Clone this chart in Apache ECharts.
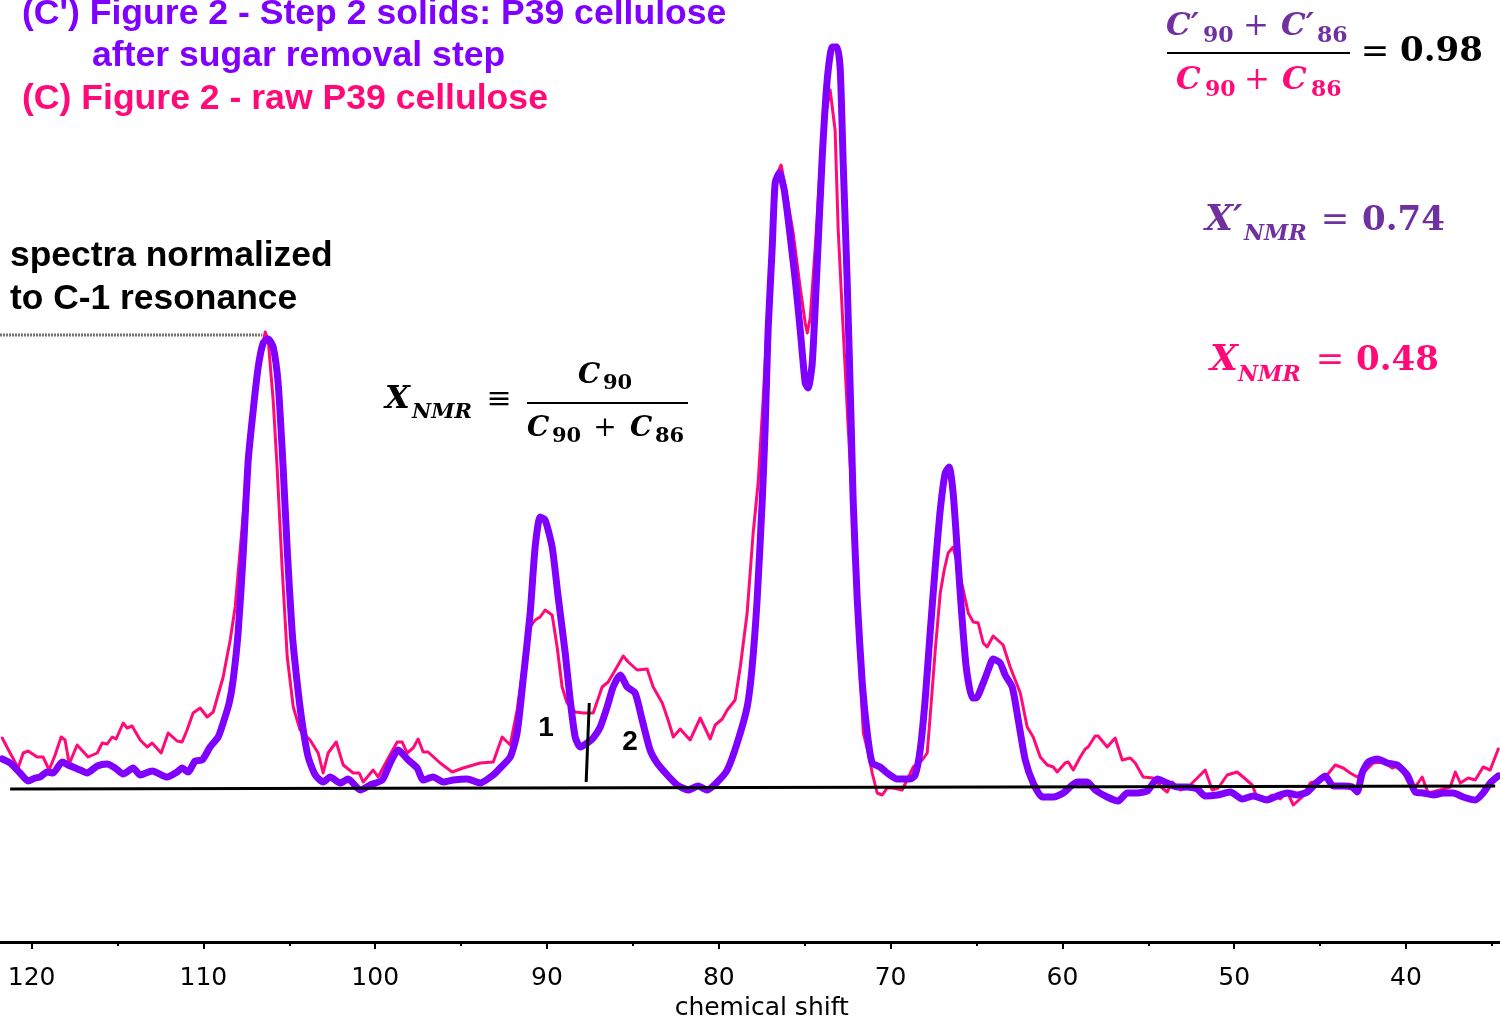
<!DOCTYPE html>
<html>
<head>
<meta charset="utf-8">
<script src="https://cdn.jsdelivr.net/npm/echarts@6/dist/echarts.min.js"></script>
<style>
html,body{margin:0;padding:0;background:#fff;}
#chart{width:1500px;height:1016px;}
</style>
</head>
<body>
<div id="chart"></div>
<script>
// ---- data: [chemical shift (ppm), intensity (a.u., C-1 peak ~450)] ----
const purpleStep2 = [[121.71,29],[121.25,25],[120.67,15],[120.2,7],[119.79,10],[119.5,11],[119.1,16],[118.75,15],[118.22,26],[117.87,23],[117.17,18],[116.77,15],[116.18,22],[115.6,24],[115.14,20],[114.67,14],[114.09,20],[113.68,13],[112.98,17],[112.11,11],[111.53,16],[111.24,20],[110.89,16],[110.48,27],[110.07,28],[109.61,41],[109.14,51],[108.85,65],[108.5,85],[108.27,108],[107.98,155],[107.68,235],[107.39,328],[107.1,378],[106.81,421],[106.52,445],[106.23,449],[105.94,441],[105.65,405],[105.36,321],[105.12,238],[104.83,155],[104.54,105],[104.25,65],[103.9,31],[103.49,13],[103.03,6],[102.62,11],[102.04,5],[101.57,9],[100.87,-2],[100.29,3],[99.59,8],[99.13,25],[98.66,38],[98.08,28],[97.56,20],[97.21,8],[96.63,11],[96.04,6],[95.46,8],[94.65,9],[93.89,5],[93.13,13],[92.73,20],[92.14,31],[91.74,55],[91.39,108],[90.98,175],[90.69,241],[90.4,271],[90.11,268],[89.7,241],[89.35,191],[88.94,135],[88.65,88],[88.36,51],[88.07,41],[87.66,45],[87.31,50],[86.9,61],[86.5,81],[86.15,101],[85.74,113],[85.33,101],[84.87,95],[84.46,68],[84.0,38],[83.59,25],[83.0,13],[82.42,3],[81.78,-2],[81.2,2],[80.68,-2],[80.09,6],[79.51,18],[78.93,45],[78.35,81],[78.06,121],[77.77,188],[77.47,288],[77.3,361],[77.13,458],[76.89,541],[76.72,605],[76.48,615],[76.19,598],[75.84,551],[75.55,508],[75.26,458],[74.97,405],[74.8,400],[74.56,425],[74.27,525],[73.98,631],[73.69,708],[73.4,741],[73.11,741],[72.93,718],[72.76,625],[72.53,508],[72.29,361],[72.18,288],[71.94,188],[71.65,105],[71.36,55],[71.07,25],[70.61,21],[70.2,15],[69.62,9],[68.86,9],[68.57,13],[68.28,38],[67.99,88],[67.7,155],[67.4,221],[67.11,278],[66.82,315],[66.59,321],[66.36,295],[66.12,238],[65.89,181],[65.6,121],[65.25,90],[65.02,90],[64.61,105],[64.32,118],[64.03,129],[63.62,125],[63.33,113],[62.92,101],[62.57,68],[62.16,28],[61.7,5],[61.17,-9],[60.53,-9],[59.95,-5],[59.14,6],[58.56,6],[58.09,-2],[57.39,-9],[56.75,-13],[56.23,-5],[55.76,-5],[55.06,-3],[54.48,9],[53.9,5],[53.32,1],[52.74,1],[52.15,-1],[51.69,-8],[50.99,-7],[50.23,-4],[49.53,-11],[48.89,-8],[48.08,-12],[47.5,-8],[46.91,-5],[46.33,-7],[45.75,-4],[45.17,6],[44.7,12],[44.24,2],[43.65,2],[43.13,1],[42.84,-4],[42.55,15],[42.2,26],[41.67,29],[41.09,25],[40.51,23],[39.93,13],[39.46,-4],[39.0,-5],[38.41,-7],[37.83,-5],[37.25,-5],[36.67,-9],[35.97,-12],[35.51,-5],[35.1,5],[34.63,12]];

const pinkRaw = [[121.71,50],[121.25,35],[120.78,20],[120.49,35],[120.2,37],[119.68,31],[119.33,31],[118.98,18],[118.63,33],[118.28,51],[118.05,48],[117.81,24],[117.35,43],[116.71,31],[116.18,35],[115.89,45],[115.6,44],[115.31,51],[115.08,49],[114.67,65],[114.44,60],[114.15,62],[113.68,48],[113.27,41],[112.98,45],[112.46,35],[112.05,55],[111.53,47],[111.24,46],[110.95,58],[110.6,75],[110.19,80],[109.78,71],[109.43,76],[108.85,111],[108.44,148],[108.15,181],[107.86,238],[107.45,321],[107.1,388],[106.7,431],[106.4,456],[106.23,448],[105.94,388],[105.71,321],[105.42,221],[105.12,131],[104.77,81],[104.37,58],[103.79,48],[103.32,35],[103.03,15],[102.74,35],[102.27,46],[101.86,23],[101.28,15],[100.93,15],[100.7,6],[100.12,18],[99.83,11],[99.3,28],[98.72,46],[98.43,46],[98.14,35],[97.79,40],[97.5,49],[97.21,36],[96.92,36],[96.22,25],[95.52,16],[94.88,20],[93.89,25],[93.13,26],[92.61,51],[92.14,43],[91.74,78],[91.39,121],[90.98,161],[90.69,168],[90.4,171],[90.11,178],[89.7,173],[89.41,141],[89.12,101],[88.83,85],[88.36,76],[87.89,75],[87.31,75],[86.79,101],[86.44,106],[86.03,118],[85.56,132],[85.27,126],[84.75,118],[84.17,119],[83.82,101],[83.29,85],[82.95,68],[82.65,51],[82.25,59],[81.67,48],[81.08,70],[80.5,49],[80.21,63],[79.8,69],[79.51,78],[79.05,88],[78.75,121],[78.35,175],[78.0,255],[77.71,305],[77.42,388],[77.01,520],[76.72,610],[76.37,623],[76.02,590],[75.67,555],[75.26,500],[74.97,465],[74.85,455],[74.68,470],[74.39,540],[74.1,620],[73.81,670],[73.52,698],[73.23,658],[73.05,558],[72.76,458],[72.47,361],[72.18,270],[71.94,165],[71.59,55],[71.3,35],[71.07,15],[70.78,-5],[70.49,-7],[70.2,0],[69.85,0],[69.33,-2],[69.04,8],[68.68,21],[68.16,28],[67.87,35],[67.7,71],[67.4,138],[67.11,195],[66.88,218],[66.65,235],[66.36,241],[66.07,221],[65.77,198],[65.48,175],[65.19,166],[64.9,165],[64.61,145],[64.38,141],[64.03,152],[63.45,143],[63.04,121],[62.45,95],[62.05,61],[61.7,51],[61.29,31],[60.88,23],[60.53,21],[60.3,16],[59.84,25],[59.66,26],[59.37,18],[58.96,31],[58.67,39],[58.5,41],[58.09,52],[57.92,52],[57.39,41],[56.93,50],[56.52,28],[56.05,30],[55.76,25],[55.3,11],[54.71,10],[54.19,0],[53.9,-4],[53.61,6],[53.14,-2],[52.74,0],[52.15,10],[51.69,18],[51.28,-2],[50.93,0],[50.41,13],[49.83,16],[49.48,11],[48.95,3],[48.66,-10],[48.31,-12],[47.79,-7],[47.32,-11],[46.91,-4],[46.56,-17],[46.04,-9],[45.57,5],[44.99,8],[44.59,13],[44.12,23],[43.65,20],[43.25,15],[42.84,11],[42.49,15],[41.91,25],[41.33,26],[40.8,20],[40.34,23],[39.93,8],[39.58,-2],[39.06,11],[38.71,-5],[38.01,-2],[37.42,1],[37.13,16],[36.84,5],[36.38,10],[35.97,8],[35.51,21],[35.1,18],[34.63,39]];

const baselineRef = [[121.25,-1],[34.81,2]];
const c1NormLevel = [[122.0,453],[106.58,453]];
const splitMarker = [[87.54,85],[87.72,6]];

const axisMin = 30, axisMax = 125, majorStep = 10;

const PURPLE = '#8000FF', PINK = '#FF0A78', MPURPLE = '#7030A0';
const SANS = '"Liberation Sans", Arial, sans-serif';
const SERIF = '"DejaVu Serif", "Liberation Serif", serif';

function txt(s, x, y, size, color, o) {
  o = o || {};
  return { type: 'text', x: x, y: y, silent: true, z: 100,
    style: { text: s, fill: color, fontSize: size,
      fontFamily: o.family || SERIF, fontWeight: o.weight || 'bold',
      fontStyle: o.italic ? 'italic' : 'normal',
      align: o.align || 'left', verticalAlign: 'middle' } };
}
function hline(x1, x2, y, w) {
  return { type: 'line', silent: true, z: 100,
    shape: { x1: x1, y1: y, x2: x2, y2: y },
    style: { stroke: '#000', lineWidth: w || 2 } };
}
const BI = { italic: true };
const graphics = [
  txt("(C') Figure 2 - Step 2 solids: P39 cellulose", 22, 14, 35.6, PURPLE, { family: SANS }),
  txt('after sugar removal step', 92, 56, 35.6, PURPLE, { family: SANS }),
  txt('(C) Figure 2 - raw P39 cellulose', 22, 99, 35.6, PINK, { family: SANS }),
  txt('spectra normalized', 10, 256, 35.4, '#000', { family: SANS }),
  txt('to C-1 resonance', 10, 299, 35.4, '#000', { family: SANS }),
  txt('1', 546, 728, 28, '#000', { family: SANS, align: 'center' }),
  txt('2', 630, 742, 28, '#000', { family: SANS, align: 'center' }),
  // top-right ratio
  txt('C\u2032', 1166, 27, 31, MPURPLE, BI),
  txt('90', 1203, 36, 22, MPURPLE),
  txt('+', 1256, 27, 31, MPURPLE, { weight: 'normal', align: 'center' }),
  txt('C\u2032', 1281, 27, 31, MPURPLE, BI),
  txt('86', 1317, 36, 22, MPURPLE),
  hline(1167, 1350, 53, 2),
  txt('C', 1176, 81, 31, PINK, BI),
  txt('90', 1205, 90, 22, PINK),
  txt('+', 1257, 81, 31, PINK, { weight: 'normal', align: 'center' }),
  txt('C', 1282, 81, 31, PINK, BI),
  txt('86', 1311, 90, 22, PINK),
  txt('=', 1375, 53, 34, '#000', { weight: 'normal', align: 'center' }),
  txt('0.98', 1400, 52, 34, '#000'),
  // X'NMR
  txt('X\u2032', 1205, 221, 36, MPURPLE, BI),
  txt('NMR', 1244, 234, 22, MPURPLE, BI),
  txt('=', 1335, 221, 34, MPURPLE, { weight: 'normal', align: 'center' }),
  txt('0.74', 1362, 221, 34, MPURPLE),
  // XNMR
  txt('X', 1210, 361, 36, PINK, BI),
  txt('NMR', 1238, 375, 22, PINK, BI),
  txt('=', 1330, 361, 34, PINK, { weight: 'normal', align: 'center' }),
  txt('0.48', 1356, 361, 34, PINK),
  // definition
  txt('X', 385, 400, 32, '#000', BI),
  txt('NMR', 412, 413, 21, '#000', BI),
  txt('\u2261', 499, 400, 30, '#000', { weight: 'normal', align: 'center' }),
  hline(527, 688, 403, 2),
  txt('C', 578, 376, 28, '#000', BI),
  txt('90', 603, 384, 21, '#000'),
  txt('C', 527, 429, 28, '#000', BI),
  txt('90', 552, 437, 21, '#000'),
  txt('+', 605, 429, 28, '#000', { weight: 'normal', align: 'center' }),
  txt('C', 630, 429, 28, '#000', BI),
  txt('86', 655, 437, 21, '#000')
];

const chart = echarts.init(document.getElementById('chart'), null, { renderer: 'canvas' });
chart.setOption({
  animation: false,
  backgroundColor: '#fff',
  grid: { left: -54.3, right: -77.8, top: 0, bottom: 74, containLabel: false, outerBoundsMode: 'none' },
  xAxis: {
    type: 'value', inverse: true, min: axisMin, max: axisMax, interval: majorStep,
    axisLine: { onZero: false, lineStyle: { color: '#000', width: 3 } },
    axisTick: { length: 7, lineStyle: { color: '#000', width: 2 } },
    minorTick: { show: true, splitNumber: 2, length: 4, lineStyle: { color: '#000', width: 2 } },
    splitLine: { show: false }, minorSplitLine: { show: false },
    axisLabel: { fontSize: 25, fontFamily: '"DejaVu Sans", sans-serif', color: '#000', margin: 24 },
    name: 'chemical shift', nameLocation: 'middle', nameGap: 54,
    nameTextStyle: { fontSize: 25, fontFamily: '"DejaVu Sans", sans-serif', color: '#000' }
  },
  yAxis: { type: 'value', min: -154, max: 788, show: false },
  series: [
    { type: 'line', data: pinkRaw, showSymbol: false, symbol: 'none', silent: true, z: 2,
      lineStyle: { color: PINK, width: 3, join: 'round', cap: 'round' } },
    { type: 'line', data: purpleStep2, showSymbol: false, symbol: 'none', silent: true, z: 3, smooth: 0.2,
      lineStyle: { color: PURPLE, width: 7, join: 'round', cap: 'round' } },
    { type: 'line', data: baselineRef, symbol: 'none', silent: true, z: 4,
      lineStyle: { color: '#000', width: 3 } },
    { type: 'line', data: c1NormLevel, symbol: 'none', silent: true, z: 4,
      lineStyle: { color: '#444', width: 3, type: [1.5, 1.5] } },
    { type: 'line', data: splitMarker, symbol: 'none', silent: true, z: 4,
      lineStyle: { color: '#000', width: 3 } }
  ],
  graphic: graphics
});
</script>
</body>
</html>
